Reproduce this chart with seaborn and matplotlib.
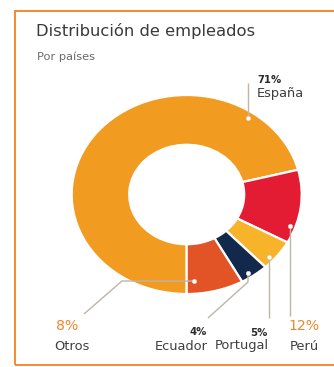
import matplotlib
matplotlib.use("Agg")
import matplotlib.pyplot as plt
from matplotlib.patches import Rectangle
import seaborn as sns

# Employee distribution by country (percent)
countries = ["España", "Perú", "Portugal", "Ecuador", "Otros"]
shares = [71, 12, 5, 4, 8]
colors = ["#F29B21", "#E31C34", "#F7B42B", "#13294B", "#E25326"]

sns.set_theme(style="white")
plt.rcParams["font.family"] = ["DejaVu Sans"]

W, H = 334, 367
fig = plt.figure(figsize=(W / 100, H / 100), dpi=100)
fig.patch.set_facecolor("white")

# Donut geometry in pixels (centre and radii of the slightly wide ring)
CX, CY, RX, RY = 186.7, 194.5, 115.0, 99.5
ax = fig.add_axes([(CX - RX) / W, (H - CY - RY) / H, 2 * RX / W, 2 * RY / H])
ax.pie(shares, colors=colors, startangle=-90, counterclock=False,
       wedgeprops=dict(width=0.5, edgecolor="white", linewidth=1.6))
ax.set_aspect("auto")
ax.set_xlim(-1, 1)
ax.set_ylim(-1, 1)
ax.axis("off")


def px(x, y):
    """Pixel position (from top-left) to donut data coordinates."""
    return (x - CX) / RX, (CY - y) / RY


# Outer frame
fig.patches.append(Rectangle((15 / W, (H - 365) / H), (345 - 15) / W, (365 - 10.5) / H,
                             transform=fig.transFigure, fill=False,
                             edgecolor="#F7892E", linewidth=1.4, zorder=0))

fig.text(36 / W, 1 - 31 / H, "Distribución de empleados", fontsize=11.8,
         color="#3A3A3A", va="center", ha="left")
fig.text(37 / W, 1 - 57 / H, "Por países", fontsize=8.2,
         color="#6A6A6A", va="center", ha="left")

line_kw = dict(color="#BDB6A8", linewidth=1.0, clip_on=False, zorder=5,
               solid_capstyle="butt")

# Leader paths: dot first, then the elbow/end points
leaders = {
    "España": [(248, 118), (248, 83)],
    "Perú": [(290, 226), (290, 316)],
    "Portugal": [(269, 257), (269, 318)],
    "Ecuador": [(248, 273), (248, 282), (208, 318)],
    "Otros": [(194, 281), (122, 281), (84, 314)],
}
for name, pts in leaders.items():
    xs, ys = zip(*[px(*p) for p in pts])
    ax.plot(xs, ys, **line_kw)
    ax.plot(xs[0], ys[0], marker="o", markersize=3.2, color="white",
            markeredgecolor="#D9D3C8", markeredgewidth=0.4, clip_on=False, zorder=6)

pct_dark = dict(fontsize=7.3, fontweight="bold", color="#2B2B2B", va="center")
pct_orange = dict(fontsize=10.2, color="#E8892F", va="center")
name_kw = dict(fontsize=9.4, color="#3F3F3F", va="center")

label_layout = {
    "España": dict(pct=(257, 80, "left", pct_dark), name=(257, 94, "left")),
    "Perú": dict(pct=(288, 326, "left", pct_orange), name=(290, 346, "left")),
    "Portugal": dict(pct=(268, 333, "right", pct_dark), name=(269, 346, "right")),
    "Ecuador": dict(pct=(207, 332, "right", pct_dark), name=(208, 346, "right")),
    "Otros": dict(pct=(56, 326, "left", pct_orange), name=(54, 346, "left")),
}
for name, share in zip(countries, shares):
    lay = label_layout[name]
    x, y, ha, kw = lay["pct"]
    ax.text(*px(x, y), f"{share}%", ha=ha, **kw)
    x, y, ha = lay["name"]
    ax.text(*px(x, y), name, ha=ha, **name_kw)

fig.savefig("out.png", dpi=100, facecolor="white")
